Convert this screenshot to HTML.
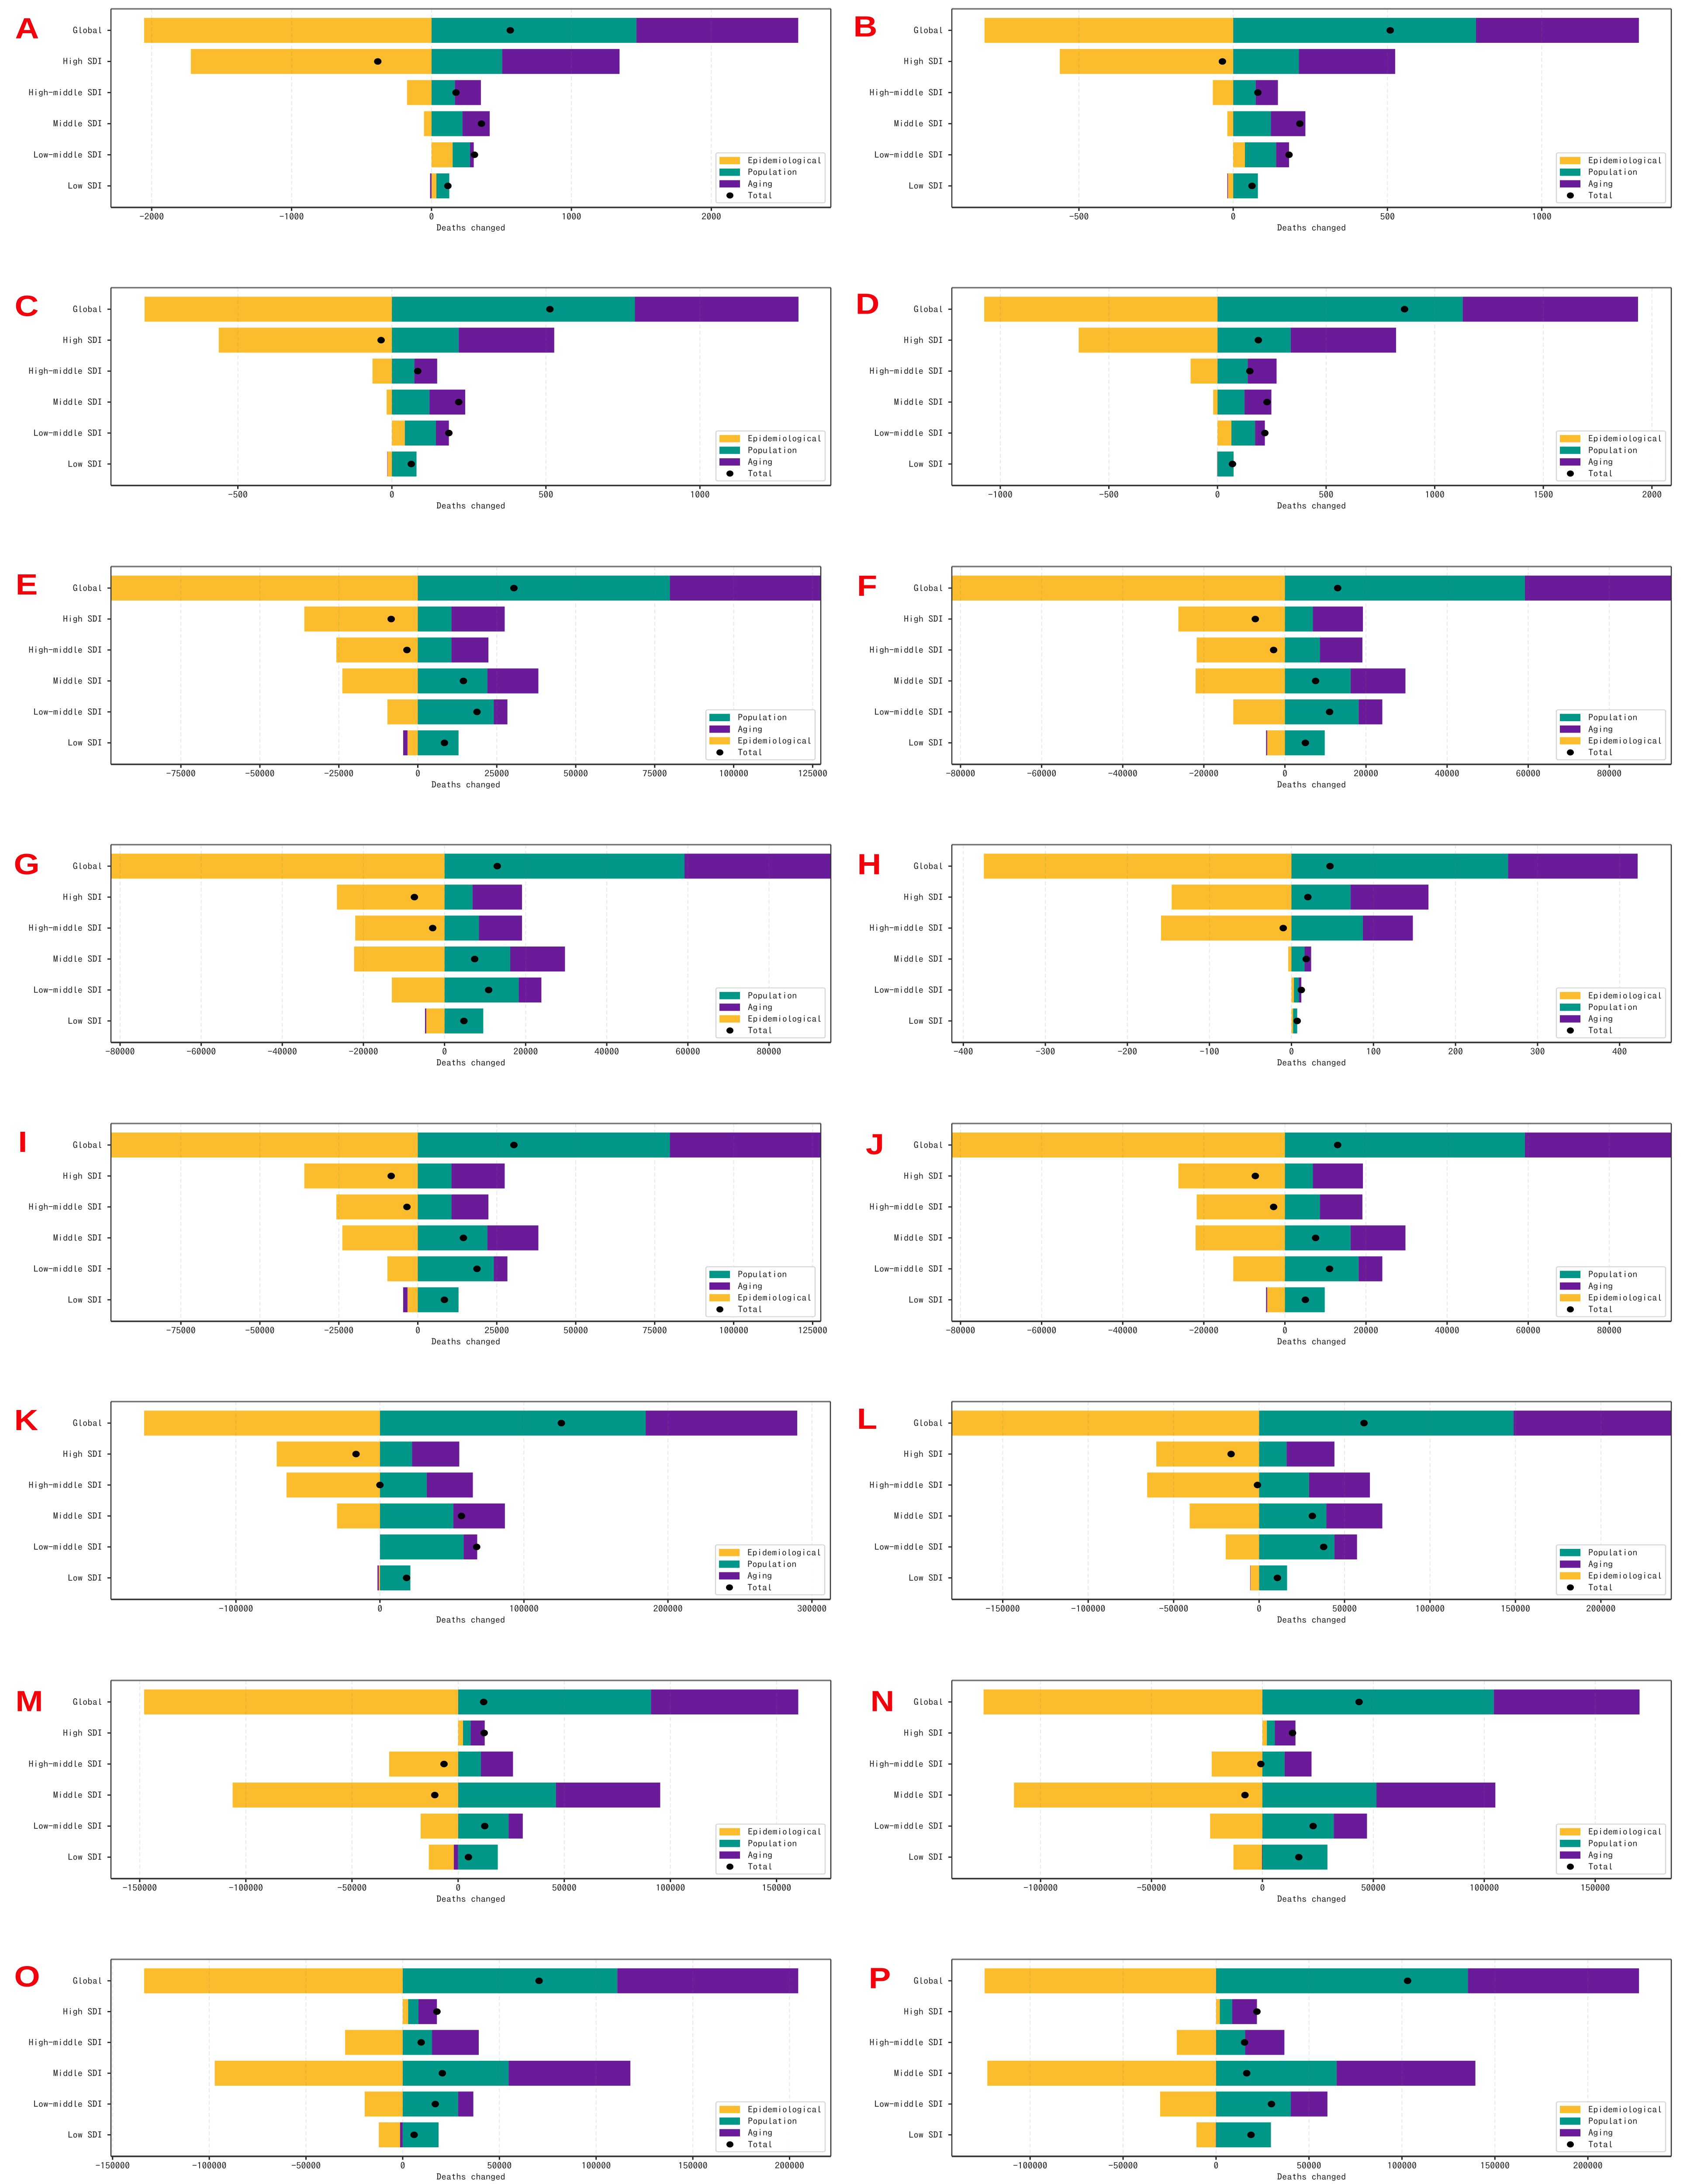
<!DOCTYPE html>
<html lang="en">
<head>
<meta charset="utf-8">
<title>Decomposition of deaths changed by SDI quintile</title>
<style>
html,body{margin:0;padding:0;background:#fff;width:100%;height:100%;overflow:hidden;}
svg{display:block;position:absolute;left:0;top:0;width:100vw;height:100vh;}
text{font-family:"IPAGothic","WenQuanYi Zen Hei","Liberation Mono",monospace;font-size:22.5px;fill:#222;}
.letter{font-family:"Liberation Sans",sans-serif;font-weight:700;font-size:76px;fill:#f5000a;}
</style>
</head>
<body>
<svg id="figure" viewBox="0 0 3862 5686" preserveAspectRatio="none" xmlns="http://www.w3.org/2000/svg"></svg>
<script>
const categories = ['Global','High SDI','High-middle SDI','Middle SDI','Low-middle SDI','Low SDI'];
const legendStandard = ['epi','pop','aging','total'];
const legendPopFirst = ['pop','aging','epi','total'];

const epiA = [-2054,-1720,-175,-54,151,35];
const popA = [1464,505,167,221,124,92];
const agingA = [1157,839,186,195,27,-10];
const totalA = [563,-384,175,357,307,117];
const ticksA = [-2000,-1000,0,1000,2000];

const epiB = [-806,-562,-66,-19,38,-17];
const popB = [787,213,73,122,101,80];
const agingB = [528,312,72,112,42,-2];
const totalB = [509,-35,80,216,181,61];
const ticksB = [-500,0,500,1000];

const epiC = [-803,-562,-63,-17,42,-14];
const popC = [789,217,73,122,101,80];
const agingC = [531,310,74,116,42,-1];
const totalC = [513,-35,84,217,185,63];
const ticksC = [-500,0,500,1000];

const epiD = [-1074,-639,-124,-20,64,-1];
const popD = [1129,337,139,124,109,74];
const agingD = [807,485,133,124,45,-1];
const totalD = [861,188,149,228,218,69];
const ticksD = [-1000,-500,0,500,1000,1500,2000];

const epiE = [-98000,-35936,-25790,-23900,-9628,-3267];
const popE = [79780,10660,10660,22010,24070,12895];
const agingE = [48220,16850,11690,16160,4300,-1375];
const totalE = [30433,-8425,-3439,14443,18741,8425];
const ticksE = [-75000,-50000,-25000,0,25000,50000,75000,100000,125000];

const epiF = [-83000,-26277,-21765,-22030,-12740,-4380];
const popF = [59190,6900,8626,16191,18182,9821];
const agingF = [36810,12343,10484,13537,5839,-265];
const totalF = [13006,-7299,-2787,7565,11015,5043];
const ticksF = [-80000,-60000,-40000,-20000,0,20000,40000,60000,80000];

const epiG = [-83000,-26530,-22020,-22290,-13000,-4510];
const popG = [59170,6900,8490,16180,18300,9550];
const agingG = [36830,12200,10610,13520,5580,-300];
const totalG = [13000,-7430,-2920,7430,10880,4780];
const ticksG = [-80000,-60000,-40000,-20000,0,20000,40000,60000,80000];

const epiH = [-375,-146,-159,-4,3,2];
const popH = [264,72,87,16,6,5];
const agingH = [158,95,61,8,3,0];
const totalH = [47,20,-10,18,12,7];
const ticksH = [-400,-300,-200,-100,0,100,200,300,400];

const epiI = [-98000,-35936,-25790,-23900,-9628,-3267];
const popI = [79780,10660,10660,22010,24070,12895];
const agingI = [48220,16850,11690,16160,4300,-1375];
const totalI = [30433,-8425,-3439,14443,18741,8425];
const ticksI = [-75000,-50000,-25000,0,25000,50000,75000,100000,125000];

const epiJ = [-83000,-26277,-21765,-22030,-12740,-4380];
const popJ = [59190,6900,8626,16191,18182,9821];
const agingJ = [36810,12343,10484,13537,5839,-265];
const totalJ = [13006,-7299,-2787,7565,11015,5043];
const ticksJ = [-80000,-60000,-40000,-20000,0,20000,40000,60000,80000];

const epiK = [-163770,-71700,-64900,-29800,0,-800];
const popK = [184530,22260,32450,50940,58100,21130];
const agingK = [105280,32840,32080,35850,9450,-900];
const totalK = [126000,-16600,0,56600,67170,18490];
const ticksK = [-100000,0,100000,200000,300000];

const epiL = [-181000,-60140,-65490,-40620,-19520,-5040];
const popL = [148930,16060,29280,39360,44080,16370];
const agingL = [93070,28020,35580,32740,13220,-200];
const totalL = [61400,-16370,-945,31170,37780,10700];
const ticksL = [-150000,-100000,-50000,0,50000,100000,150000,200000];

const epiM = [-147940,2300,-32500,-106220,-17660,-11770];
const popM = [90860,3580,10750,46070,23800,18680];
const agingM = [69370,6650,15100,49140,6660,-2050];
const totalM = [12030,12290,-6650,-11000,12540,4860];
const ticksM = [-150000,-100000,-50000,0,50000,100000,150000];

const epiN = [-125700,2000,-22860,-112000,-23570,-12860];
const popN = [104300,3600,10000,51400,32140,29300];
const agingN = [65700,9300,12140,53600,15000,-200];
const totalN = [43570,13570,-700,-7860,22860,16400];
const ticksN = [-100000,-50000,0,50000,100000,150000];

const epiO = [-133700,2800,-29780,-97190,-19660,-10960];
const popO = [110960,5340,15170,54780,28650,18540];
const agingO = [93530,9550,24160,62920,7870,-1400];
const totalO = [70500,17700,9550,20500,16850,5900];
const ticksO = [-150000,-100000,-50000,0,50000,100000,150000,200000];

const epiP = [-124460,2030,-21130,-123010,-30100,-10420];
const popP = [135460,6660,15630,64830,40230,29520];
const agingP = [92040,13310,21130,74670,19680,-100];
const totalP = [103040,22000,15340,16500,29810,18810];
const ticksP = [-100000,-50000,0,50000,100000,150000,200000];

const rowTops = [23,749,1475,2199,2925,3649,4375,5101];
const rowBottoms = [540,1264,1990,2714,3440,4164,4891,5614];
const colors = {epi:'#FBBD2D',pop:'#009688',aging:'#6A1B9A',total:'#000'};
const seriesLabels = {epi:'Epidemiological',pop:'Population',aging:'Aging',total:'Total'};

const panels = [
 {id:'A',row:0,col:0,xlim:[-2291,2854],ticks:ticksA,epi:epiA,pop:popA,aging:agingA,total:totalA,legend:legendStandard,lx:62,ly:100},
 {id:'B',row:0,col:1,xlim:[-912,1420],ticks:ticksB,epi:epiB,pop:popB,aging:agingB,total:totalB,legend:legendStandard,lx:1981,ly:95},
 {id:'C',row:1,col:0,xlim:[-912,1425],ticks:ticksC,epi:epiC,pop:popC,aging:agingC,total:totalC,legend:legendStandard,lx:61,ly:823},
 {id:'D',row:1,col:1,xlim:[-1223,2089],ticks:ticksD,epi:epiD,pop:popD,aging:agingD,total:totalD,legend:legendStandard,lx:1986,ly:817},
 {id:'E',row:2,col:0,right:1879,xlim:[-97146,127579],ticks:ticksE,epi:epiE,pop:popE,aging:agingE,total:totalE,legend:legendPopFirst,lx:61,ly:1548},
 {id:'F',row:2,col:1,xlim:[-82150,95289],ticks:ticksF,epi:epiF,pop:popF,aging:agingF,total:totalF,legend:legendPopFirst,lx:1985,ly:1551},
 {id:'G',row:3,col:0,xlim:[-82250,95250],ticks:ticksG,epi:epiG,pop:popG,aging:agingG,total:totalG,legend:legendPopFirst,lx:61,ly:2276},
 {id:'H',row:3,col:1,xlim:[-414,463],ticks:ticksH,epi:epiH,pop:popH,aging:agingH,total:totalH,legend:legendStandard,lx:1990,ly:2276},
 {id:'I',row:4,col:0,right:1879,xlim:[-97146,127579],ticks:ticksI,epi:epiI,pop:popI,aging:agingI,total:totalI,legend:legendPopFirst,lx:52,ly:2999},
 {id:'J',row:4,col:1,xlim:[-82150,95289],ticks:ticksJ,epi:epiJ,pop:popJ,aging:agingJ,total:totalJ,legend:legendPopFirst,lx:2003,ly:3005},
 {id:'K',row:5,col:0,right:1901,xlim:[-186800,312830],ticks:ticksK,epi:epiK,pop:popK,aging:agingK,total:totalK,legend:legendStandard,lx:60,ly:3723},
 {id:'L',row:5,col:1,xlim:[-179790,241190],ticks:ticksL,epi:epiL,pop:popL,aging:agingL,total:totalL,legend:legendPopFirst,lx:1985,ly:3720},
 {id:'M',row:6,col:0,agingFirst:true,xlim:[-163550,175580],ticks:ticksM,epi:epiM,pop:popM,aging:agingM,total:totalM,legend:legendStandard,lx:67,ly:4455},
 {id:'N',row:6,col:1,agingFirst:true,xlim:[-140000,184300],ticks:ticksN,epi:epiN,pop:popN,aging:agingN,total:totalN,legend:legendStandard,lx:2020,ly:4455},
 {id:'O',row:7,col:0,agingFirst:true,xlim:[-150840,221350],ticks:ticksO,epi:epiO,pop:popO,aging:agingO,total:totalO,legend:legendStandard,lx:62,ly:5172},
 {id:'P',row:7,col:1,agingFirst:true,xlim:[-142110,244860],ticks:ticksP,epi:epiP,pop:popP,aging:agingP,total:totalP,legend:legendStandard,lx:2014,ly:5176}
];

const NS = 'http://www.w3.org/2000/svg';
const root = document.getElementById('figure');
function mk(tag, attrs, parent, txt){
  const n = document.createElementNS(NS, tag);
  for (const k in attrs) n.setAttribute(k, attrs[k]);
  if (txt !== undefined) n.textContent = txt;
  parent.appendChild(n);
  return n;
}
function slug(s){ return s.toLowerCase().replace(/\s+/g,'-'); }

panels.forEach(function(p){
  const L = p.col === 0 ? 254 : 2179;
  const R = p.right || (p.col === 0 ? 1902 : 3826);
  const T = rowTops[p.row];
  const B = rowBottoms[p.row];
  const xScale = function(v){ return L + (v - p.xlim[0]) / (p.xlim[1] - p.xlim[0]) * (R - L); };
  const yBand = function(i){ return T + 56 + i * (B - T - 112) / 5; };
  const barH = 65;

  const g = mk('g', {}, root);
  
  

  const defs = mk('defs', {}, g);
  const clip = mk('clipPath', {id:'clip-' + p.id}, defs);
  mk('rect', {x:L, y:T, width:R-L, height:B-T}, clip);

  const letter = mk('text', {x:p.lx, y:p.ly, 'text-anchor':'middle', class:'letter'}, g, p.id);
  
  

  const plot = mk('g', {'clip-path':'url(#clip-' + p.id + ')'}, g);
  
  

  categories.forEach(function(cat, i){
    const cy = yBand(i);
    let posEnd = 0;
    let negEnd = 0;
    const posOrder = ['epi','pop','aging'];
    const negOrder = p.agingFirst ? ['aging','epi','pop'] : ['epi','aging','pop'];
    posOrder.forEach(function(s){
      const v = p[s][i];
      if (v > 0) {
        const bar = mk('rect', {x:xScale(posEnd), y:cy-barH/2, width:xScale(posEnd+v)-xScale(posEnd), height:barH, fill:colors[s]}, plot);
        
        
        posEnd += v;
      }
    });
    negOrder.forEach(function(s){
      const v = p[s][i];
      if (v < 0) {
        const bar = mk('rect', {x:xScale(negEnd+v), y:cy-barH/2, width:xScale(negEnd)-xScale(negEnd+v), height:barH, fill:colors[s]}, plot);
        
        
        negEnd += v;
      }
    });
  });

  p.ticks.forEach(function(t){
    const x = xScale(t);
    const grid = mk('line', {x1:x, x2:x, y1:T, y2:B, stroke:'rgba(120,120,120,0.17)', 'stroke-width':2, 'stroke-dasharray':'10 6'}, g);
    
    
    const tick = mk('line', {x1:x, x2:x, y1:B, y2:B+9, stroke:'#222', 'stroke-width':3}, g);
    
    
    const label = mk('text', {x:x, y:B+32, 'text-anchor':'middle'}, g, String(t));
    
    
  });

  categories.forEach(function(cat, i){
    const cy = yBand(i);
    const tick = mk('line', {x1:L-8, x2:L, y1:cy, y2:cy, stroke:'#222', 'stroke-width':3}, g);
    
    
    const label = mk('text', {x:L-20, y:cy+8, 'text-anchor':'end'}, g, cat);
    
    
  });

  const lines = [[L,T,R,T,'#777',4],[L,B,R,B,'#333',4],[L,T,L,B,'#333',2.5],[R,T,R,B,'#333',2.5]];
  lines.forEach(function(a){
    const sp = mk('line', {x1:a[0], y1:a[1], x2:a[2], y2:a[3], stroke:a[4], 'stroke-width':a[5]}, g);
    
    
  });

  const xTitle = mk('text', {x:(L+R)/2, y:B+61, 'text-anchor':'middle'}, g, 'Deaths changed');
  
  

  categories.forEach(function(cat, i){
    const dot = mk('circle', {cx:xScale(p.total[i]), cy:yBand(i), r:8.5, fill:colors.total}, g);
    
    
  });

  const boxR = R - 13;
  const boxB = B - 12;
  const boxL = boxR - 250;
  const boxT = boxB - 130;
  const lg = mk('g', {}, g);
  
  
  mk('rect', {x:boxL, y:boxT, width:250, height:130, rx:4, fill:'rgba(255,255,255,0.9)', stroke:'#d6d6d6', 'stroke-width':2.5}, lg);
  p.legend.forEach(function(s, k){
    const cy = boxT + 20 + k * 30.3;
    let mark;
    if (s === 'total') {
      mark = mk('circle', {cx:boxL+32, cy:cy, r:8, fill:colors.total}, lg);
    } else {
      mark = mk('rect', {x:boxL+8, y:cy-9.5, width:47, height:19, fill:colors[s]}, lg);
    }
    
    
    const t = mk('text', {x:boxL+73, y:cy+8}, lg, seriesLabels[s]);
    
    
  });
});
</script>
</body>
</html>
